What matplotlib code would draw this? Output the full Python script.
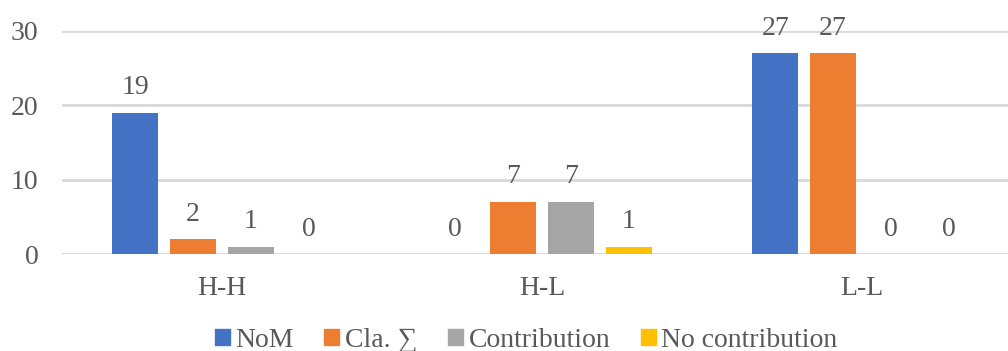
import numpy as np
import matplotlib.pyplot as plt

plt.rcParams['font.family'] = 'Liberation Serif'

categories = ['H-H', 'H-L', 'L-L']
series = ['NoM', 'Cla. \u2211', 'Contribution', 'No contribution']
nom = [19, 0, 27]
cla = [2, 7, 27]
contribution = [1, 7, 0]
no_contribution = [0, 1, 0]
colors = ['#4472C4', '#ED7D31', '#A5A5A5', '#FFC000']

values = [nom, cla, contribution, no_contribution]
text_color = '#595959'
fs = 20

fig = plt.figure(figsize=(10.08, 3.51), dpi=100)
ax = fig.add_axes([62 / 1008, 1 - 254 / 351, 946 / 1008, 223 / 351])

x = np.arange(len(categories))
step = 0.181
width = 0.145
for i, (vals, name, c) in enumerate(zip(values, series, colors)):
    pos = x + (i - 1.5) * step
    ax.bar(pos, vals, width, color=c, label=name, zorder=3)
    for p, v in zip(pos, vals):
        ax.annotate(str(v), (p, v), xytext=(0, 18), textcoords='offset points',
                    ha='center', va='center', fontsize=fs, color=text_color)

ax.set_xlim(-0.5, 2.456)
ax.set_ylim(0, 30)
ax.set_yticks([0, 10, 20, 30])
ax.set_xticks(x)
ax.set_xticklabels(categories)
ax.grid(axis='y', color='#D9D9D9', linewidth=2, zorder=0)
ax.tick_params(axis='both', length=0, labelsize=fs, labelcolor=text_color)
ax.tick_params(axis='y', pad=17)
ax.tick_params(axis='x', pad=16)
for s in ax.spines.values():
    s.set_visible(False)

# legend squares under the plot; the sigma needs a fallback font
handles = [plt.Rectangle((0, 0), 1, 1, color=c) for c in colors]
leg = fig.legend(handles, series, loc='center', bbox_to_anchor=(0.522, 0.031), ncol=4,
                 frameon=False, fontsize=fs, labelcolor=text_color, handlelength=0.54,
                 handleheight=0.54, handletextpad=0.2, columnspacing=1.1)
for t in leg.get_texts():
    t.set_fontfamily(['Liberation Serif', 'DejaVu Serif'])

fig.savefig('out.png', dpi=100)
